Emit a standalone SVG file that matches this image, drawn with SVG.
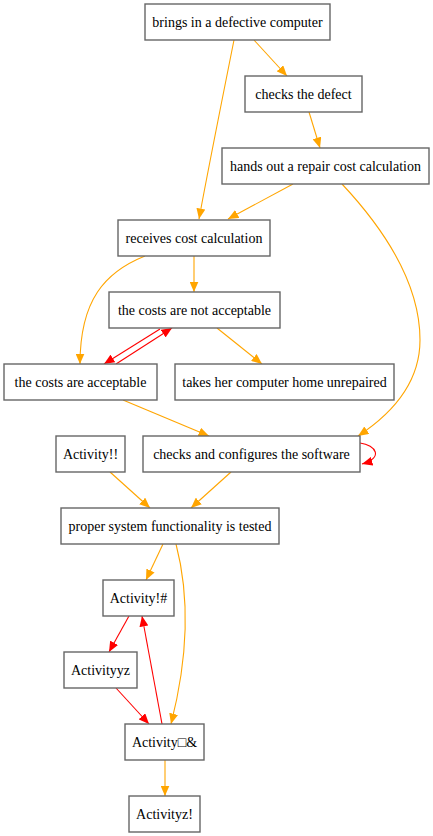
<svg xmlns="http://www.w3.org/2000/svg" width="433" height="836" viewBox="0 0 433 836">
<style>
.n rect{fill:#fff;stroke:#666;stroke-width:1.4}
.n text{font-family:"Liberation Serif","Times New Roman",serif;font-size:14px;fill:#000;text-anchor:middle}
.o{fill:none;stroke:#FFA500;stroke-width:1.1}
.r{fill:none;stroke:#FF0000;stroke-width:1.1}
</style>
<defs>
<marker id="ao" markerUnits="userSpaceOnUse" markerWidth="11" markerHeight="9" refX="10.5" refY="4.5" orient="auto"><path d="M0,0 L10.5,4.5 L0,9 z" fill="#FFA500"/></marker>
<marker id="ar" markerUnits="userSpaceOnUse" markerWidth="11" markerHeight="9" refX="10.5" refY="4.5" orient="auto"><path d="M0,0 L10.5,4.5 L0,9 z" fill="#FF0000"/></marker>
</defs>
<rect width="433" height="836" fill="#fff"/>
<g id="edges">
<path class="o" d="M254,40 L287,76" marker-end="url(#ao)"/>
<path class="o" d="M234,40 C226,80 208,170 199,219" marker-end="url(#ao)"/>
<path class="o" d="M309,112 L320,148" marker-end="url(#ao)"/>
<path class="o" d="M293,184 L228,219" marker-end="url(#ao)"/>
<path class="o" d="M342,184 C385,230 420,285 420,340 C420,385 390,415 358,436" marker-end="url(#ao)"/>
<path class="o" d="M194,256 L194,292" marker-end="url(#ao)"/>
<path class="o" d="M145,256 C105,272 80,300 80,364" marker-end="url(#ao)"/>
<path class="r" d="M160,329 L104,364" marker-end="url(#ar)"/>
<path class="r" d="M116,364 L172,328" marker-end="url(#ar)"/>
<path class="o" d="M217,328 L262,364" marker-end="url(#ao)"/>
<path class="o" d="M123,400 L209,436" marker-end="url(#ao)"/>
<path class="r" d="M360,443 C376,445 384,458 362,464" marker-end="url(#ar)"/>
<path class="o" d="M110,472 L150,508" marker-end="url(#ao)"/>
<path class="o" d="M231,472 L191,508" marker-end="url(#ao)"/>
<path class="o" d="M163,544 L146,580" marker-end="url(#ao)"/>
<path class="o" d="M176,544 C188,590 190,650 171,724" marker-end="url(#ao)"/>
<path class="r" d="M129,616 L109,652" marker-end="url(#ar)"/>
<path class="r" d="M116,688 L149,724" marker-end="url(#ar)"/>
<path class="r" d="M162,724 L142,616" marker-end="url(#ar)"/>
<path class="o" d="M165,760 L165,796" marker-end="url(#ao)"/>
</g>
<g id="n1" class="n"><rect x="145" y="4" width="185" height="36"/><text x="237.5" y="27">brings in a defective computer</text></g>
<g id="n2" class="n"><rect x="245" y="76" width="117" height="36"/><text x="303.5" y="99">checks the defect</text></g>
<g id="n3" class="n"><rect x="222" y="148" width="207" height="36"/><text x="325.5" y="171">hands out a repair cost calculation</text></g>
<g id="n4" class="n"><rect x="118" y="220" width="152" height="36"/><text x="194" y="243">receives cost calculation</text></g>
<g id="n5" class="n"><rect x="109" y="292" width="171" height="36"/><text x="194.5" y="315">the costs are not acceptable</text></g>
<g id="n6" class="n"><rect x="4" y="364" width="153" height="36"/><text x="80.5" y="387">the costs are acceptable</text></g>
<g id="n7" class="n"><rect x="175" y="364" width="219" height="36"/><text x="284.5" y="387">takes her computer home unrepaired</text></g>
<g id="n8" class="n"><rect x="56" y="436" width="69" height="36"/><text x="90.5" y="459">Activity!!</text></g>
<g id="n9" class="n"><rect x="143" y="436" width="217" height="36"/><text x="251.5" y="459">checks and configures the software</text></g>
<g id="n10" class="n"><rect x="61" y="508" width="218" height="36"/><text x="170" y="531">proper system functionality is tested</text></g>
<g id="n11" class="n"><rect x="103" y="580" width="71" height="36"/><text x="138.5" y="603">Activity!#</text></g>
<g id="n12" class="n"><rect x="64" y="652" width="73" height="36"/><text x="100.5" y="675">Activityyz</text></g>
<g id="n13" class="n"><rect x="125" y="724" width="79" height="36"/><text x="164.5" y="747">Activity□&amp;</text></g>
<g id="n14" class="n"><rect x="129" y="796" width="71" height="36"/><text x="164.5" y="819">Activityz!</text></g>
</svg>
